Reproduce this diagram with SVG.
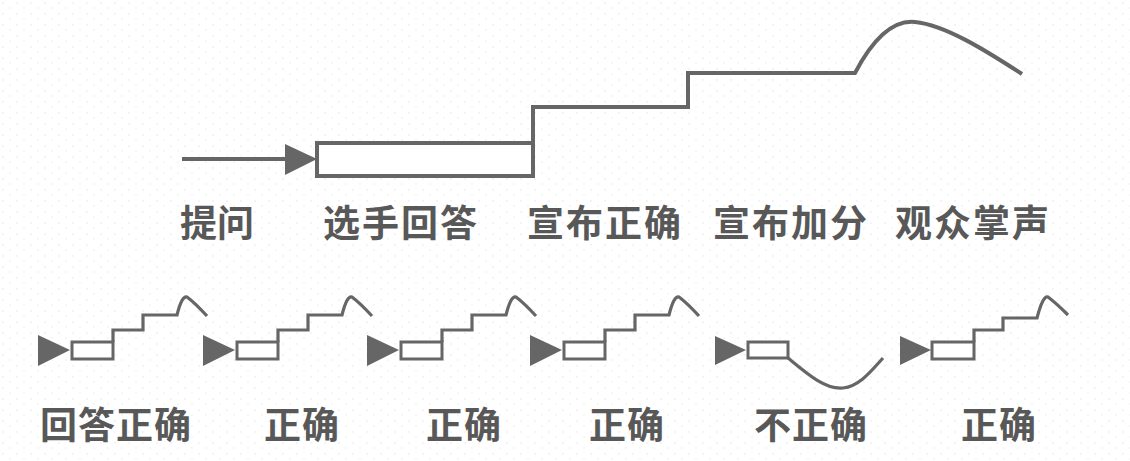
<svg xmlns="http://www.w3.org/2000/svg" width="1130" height="461" viewBox="0 0 1130 461">
<defs>
<pattern id="dots" width="14" height="11" patternUnits="userSpaceOnUse">
<circle cx="3" cy="3" r="0.7" fill="#e6b8e6"/>
<circle cx="10" cy="8" r="0.7" fill="#bfe6bf"/>
</pattern>
<style>
.ln{fill:none;stroke:#666;stroke-linejoin:miter;stroke-linecap:butt}
.main{stroke-width:4}
.sm{stroke-width:3.2}
.tri{fill:#666;stroke:none}
.box{fill:#fff;stroke:#666}
.lbl{font-family:"Noto Sans CJK SC","Noto Sans CJK JP",sans-serif;font-weight:bold;font-size:37px;fill:#585858}
</style>
</defs>
<rect width="1130" height="461" fill="#fff"/>
<rect width="1130" height="461" fill="url(#dots)" opacity="0.6"/>

<g id="main-sequence">
<line class="ln main" x1="182" y1="159" x2="290" y2="159"/>
<polygon class="tri" points="285,144 317,159 285,175"/>
<rect class="box" x="317" y="143" width="216" height="33" stroke-width="4"/>
<path class="ln main" d="M533,143 V107 H688 V73 H855 C875,35 895,20 915,22 C945,25 985,50 1022,74"/>
</g>

<g id="main-labels">
<text class="lbl" x="180" y="237">提问</text>
<text class="lbl" x="323" y="237" letter-spacing="2">选手回答</text>
<text class="lbl" x="527" y="237" letter-spacing="2">宣布正确</text>
<text class="lbl" x="713" y="237" letter-spacing="2">宣布加分</text>
<text class="lbl" x="895" y="237" letter-spacing="2">观众掌声</text>
</g>

<g id="icon1">
<polygon class="tri" points="38,335 70,350 38,366"/>
<rect class="box" x="72" y="342" width="41" height="17" stroke-width="3"/>
<path class="ln sm" d="M113,342 V330 H143 V315 H177 Q182,295 187,297 Q195,303 207,316"/>
</g>
<g id="icon2">
<polygon class="tri" points="203,335 235,350 203,366"/>
<rect class="box" x="237" y="342" width="41" height="17" stroke-width="3"/>
<path class="ln sm" d="M278,342 V330 H308 V315 H342 Q347,295 352,297 Q360,303 372,316"/>
</g>
<g id="icon3">
<polygon class="tri" points="367,335 399,350 367,366"/>
<rect class="box" x="401" y="342" width="41" height="17" stroke-width="3"/>
<path class="ln sm" d="M442,342 V330 H472 V315 H506 Q511,295 516,297 Q524,303 536,316"/>
</g>
<g id="icon4">
<polygon class="tri" points="530,335 562,350 530,366"/>
<rect class="box" x="564" y="342" width="41" height="17" stroke-width="3"/>
<path class="ln sm" d="M605,342 V330 H635 V315 H669 Q674,295 679,297 Q687,303 699,316"/>
</g>
<g id="icon5">
<polygon class="tri" points="715,336 746,350 715,365"/>
<rect class="box" x="748" y="342" width="40" height="16" stroke-width="3"/>
<path class="ln sm" d="M788,358 C805,372 825,390 843,388 C860,386 872,370 883,358"/>
</g>
<g id="icon6">
<polygon class="tri" points="900,336 931,350 900,365"/>
<rect class="box" x="932" y="342" width="42" height="17" stroke-width="3"/>
<path class="ln sm" d="M974,342 V330 H1003 V318 H1037 Q1043,295 1048,297 Q1056,303 1068,315"/>
</g>

<g id="icon-labels">
<text class="lbl" x="40" y="439" letter-spacing="1">回答正确</text>
<text class="lbl" x="264" y="439" letter-spacing="1">正确</text>
<text class="lbl" x="426" y="439" letter-spacing="1">正确</text>
<text class="lbl" x="589" y="439" letter-spacing="1">正确</text>
<text class="lbl" x="754" y="439" letter-spacing="1">不正确</text>
<text class="lbl" x="961" y="439" letter-spacing="1">正确</text>
</g>
</svg>
